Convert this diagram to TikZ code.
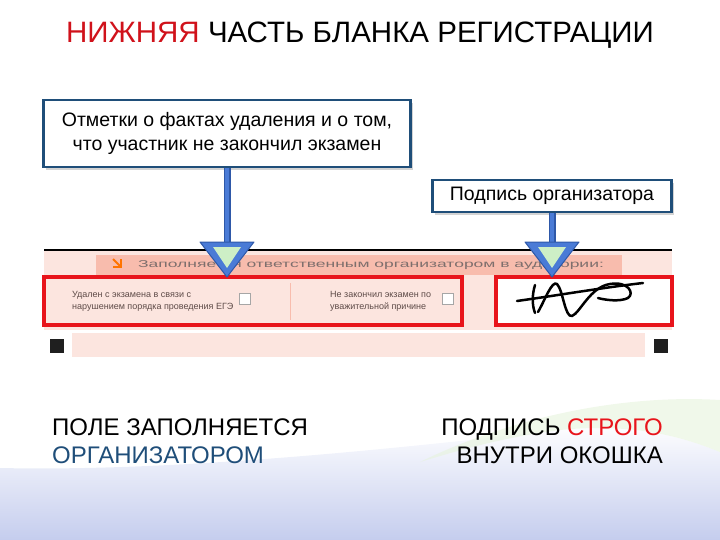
\documentclass[tikz,border=0pt]{standalone}
\usepackage{fontspec}
\setmainfont{Liberation Sans}
\usetikzlibrary{shadows}

\definecolor{notebord}{HTML}{1F4E79}
\definecolor{stemblue}{HTML}{4A7BD6}
\definecolor{stemedge}{HTML}{2E58A8}
\definecolor{tipgreen}{HTML}{CDEFC6}
\definecolor{formpink}{HTML}{FCE5DF}
\definecolor{bandpink}{HTML}{F8BCAD}
\definecolor{formred}{HTML}{E8141B}
\definecolor{titlered}{HTML}{D0121B}
\definecolor{orgblue}{HTML}{1F4E79}
\definecolor{formgray}{HTML}{5E4B48}
\definecolor{swooshblue}{HTML}{C5CDEE}
\definecolor{swooshgreen}{HTML}{E6F3DC}

\begin{document}
\begin{tikzpicture}[x=1pt,y=-1pt,
  note/.style={draw=notebord, line width=2.5pt, fill=white, align=center,
    font=\fontsize{19.5}{24}\selectfont,
    drop shadow={shadow xshift=2pt, shadow yshift=-3pt, opacity=0.35}},
  stem/.style={draw=stemedge, double=stemblue, double distance=4pt, line width=1.5pt},
  tipouter/.style={fill=stemblue, draw=stemedge, line width=1pt, line join=round},
  field/.style={draw=formred, line width=4.5pt},
  formtxt/.style={text=formgray, align=left, inner sep=0pt,
    font=\fontsize{9}{12}\selectfont},
  bigtxt/.style={inner sep=0pt, font=\fontsize{24}{28}\selectfont}
]
\useasboundingbox (0,0) rectangle (720,540);

\shade[top color=white, bottom color=swooshblue] (0,540) -- (0,468)
  .. controls (180,472) and (400,448) .. (560,430)
  .. controls (640,422) and (690,440) .. (720,452) -- (720,540) -- cycle;
\fill[swooshgreen, opacity=0.6] (420,462) .. controls (510,418) and (620,394) .. (720,400)
  -- (720,452) .. controls (690,440) and (640,422) .. (560,430)
  .. controls (500,438) and (460,450) .. (420,462) -- cycle;

\node[anchor=base, font=\fontsize{29.5}{34}\selectfont] (title) at (360,43)
  {\textcolor{titlered}{НИЖНЯЯ} ЧАСТЬ БЛАНКА РЕГИСТРАЦИИ};

\fill[formpink] (44,251) rectangle (672,330);
\draw[line width=1.5pt] (44,250) -- (672,250);
\fill[bandpink] (96,255) rectangle (622,275);
\draw[orange!90!red, line width=2pt] (113,259) -- (121,267);
\draw[orange!90!red, line width=2pt] (113,267) -- (121,267) -- (121,259);
\node[text=formgray!80, inner sep=0pt] (hdr) at (371,265)
  {\scalebox{1.75}[1]{\fontsize{10}{12}\selectfont Заполняется ответственным организатором в аудитории:}};

\draw[field, fill=formpink] (44,277) rectangle (462,325);
\draw[field, fill=white] (496,277) rectangle (672,325);
\draw[bandpink, line width=0.8pt] (290,283) -- (290,320);
\node[formtxt, anchor=west] (removed) at (72,301)
  {Удален с экзамена в связи с\\нарушением порядка проведения ЕГЭ};
\node[formtxt, anchor=west] (unfinished) at (330,301)
  {Не закончил экзамен по\\уважительной причине};
\foreach \x in {245,448}{
       \draw[gray!70, fill=white, line width=0.6pt] (\x-5.5,293) rectangle (\x+5.5,304);
}

\draw[line width=2.5pt, line cap=round] (517,301) .. controls (560,295) and (600,288) .. (643,283);
\draw[line width=2.5pt, line cap=round] (535,285) .. controls (532,295) and (532,305) .. (535,313);
\draw[line width=2.5pt, line cap=round, line join=round] (538,312)
  .. controls (545,300) and (552,280) .. (557,284)
  .. controls (563,290) and (565,318) .. (572,316)
  .. controls (580,313) and (590,287) .. (610,284)
  .. controls (628,281) and (635,293) .. (628,298)
  .. controls (620,302) and (605,300) .. (598,298);

\fill[formpink] (72,333) rectangle (645,357);
\foreach \x in {57,661}{
       \fill[black!88] (\x-7,339) rectangle (\x+7,353);
}

\node[note, minimum width=367, minimum height=67] (remnote) at (227,133.5)
  {Отметки о фактах удаления и о том,\\что участник не закончил экзамен};
\node[note, minimum width=239, minimum height=32] (signote) at (552,196)
  {Подпись организатора};

\coordinate (remtip) at (remnote.south |- 0,277);
\coordinate (sigtip) at (signote.south |- 0,277);
\draw[stem] (remnote.south) -- ([yshift=20pt]remtip);
\draw[stem] (signote.south) -- ([yshift=20pt]sigtip);
\foreach \t in {remtip,sigtip}{
       \filldraw[tipouter] (\t) -- ++(-27,-35) -- ++(54,0) -- cycle;
       \fill[tipgreen] ([yshift=9pt]\t) -- ++(-14,-21) -- ++(28,0) -- cycle;
}

\node[bigtxt, anchor=base west] (field1) at (52,435) {ПОЛЕ ЗАПОЛНЯЕТСЯ};
\node[bigtxt, anchor=base west, text=orgblue] (field2) at (52,463) {ОРГАНИЗАТОРОМ};
\node[bigtxt, anchor=base east] (sign1) at (663,435) {ПОДПИСЬ \textcolor{formred}{СТРОГО}};
\node[bigtxt, anchor=base east] (sign2) at (663,463) {ВНУТРИ ОКОШКА};

\end{tikzpicture}
\end{document}
